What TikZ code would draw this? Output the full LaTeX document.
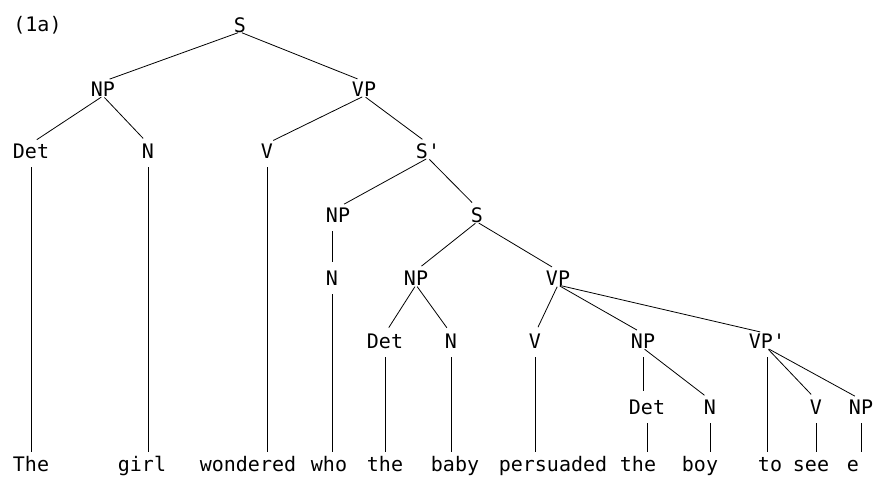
\documentclass[tikz,border=0pt]{standalone}
\usepackage{fontspec}
\newfontfamily\treefamily{DejaVu Sans Mono}
\newcommand\treefont{\treefamily\fontsize{20}{23}\selectfont}
\begin{document}
\begin{tikzpicture}[x=1pt,y=-1pt,
  lab/.style={font=\treefont, inner sep=0pt, outer sep=0pt, text height=14.5pt, text depth=0pt, anchor=base},
  wd/.style={font=\treefont, inner sep=0pt, outer sep=0pt, text height=10.5pt, text depth=4pt, anchor=base},
  br/.style={line width=0.8pt, black, shorten <=2pt, shorten >=7pt},
  vl/.style={line width=0.8pt, black, shorten <=9pt, shorten >=9pt}]
\useasboundingbox (0,0) rectangle (873,482);
\node[lab] (ex) at (37.5,31) {(1a)};
% tree labels
\node[lab] (s1) at (240,32) {S};
\node[lab] (np1) at (103,96) {NP};
\node[lab] (vp1) at (364,96) {VP};
\node[lab] (det1) at (31,158) {Det};
\node[lab] (n1) at (148,158) {N};
\node[lab] (v1) at (267,158) {V};
\node[lab] (sb) at (428,158) {S'};
\node[lab] (np2) at (338,222) {NP};
\node[lab] (s2) at (477,222) {S};
\node[lab] (n2) at (332,285) {N};
\node[lab] (np3) at (416,285) {NP};
\node[lab] (vp2) at (558,285) {VP};
\node[lab] (det3) at (385,348) {Det};
\node[lab] (n3) at (451,348) {N};
\node[lab] (v3) at (535,348) {V};
\node[lab] (np4) at (643,348) {NP};
\node[lab] (vpp) at (767,348) {VP'};
\node[lab] (det4) at (647,414) {Det};
\node[lab] (n4) at (710,414) {N};
\node[lab] (v5) at (816,414) {V};
\node[lab] (np5) at (861,414) {NP};
% words
\node[wd] (w1) at (31,471) {The};
\node[wd] (w2) at (142,471) {girl};
\node[wd] (w3) at (248,471) {wondered};
\node[wd] (w4) at (329,471) {who};
\node[wd] (w5) at (385,471) {the};
\node[wd] (w6) at (455,471) {baby};
\node[wd] (w7) at (553,471) {persuaded};
\node[wd] (w8) at (638,471) {the};
\node[wd] (w9) at (700,471) {boy};
\node[wd] (w10) at (770,471) {to};
\node[wd] (w11) at (811,471) {see};
\node[wd] (w12) at (853,471) {e};
% branches
\draw[br] (s1.south) -- (np1.north);
\draw[br] (s1.south) -- (vp1.north);
\draw[br] (np1.south) -- (det1.north);
\draw[br] (np1.south) -- (n1.north);
\draw[br] (vp1.south) -- (v1.north);
\draw[br] (vp1.south) -- (sb.north);
\draw[br] (sb.south) -- (np2.north);
\draw[br] (sb.south) -- (s2.north);
\draw[vl] (n2.north |- np2.south) -- (n2.north);
\draw[br] (s2.south) -- (np3.north);
\draw[br] (s2.south) -- (vp2.north);
\draw[br] (np3.south) -- (det3.north);
\draw[br] (np3.south) -- (n3.north);
\draw[br] (vp2.south) -- (v3.north);
\draw[br] (vp2.south) -- (np4.north);
\draw[br] (vp2.south) -- (vpp.north);
\draw[vl] (np4.south) -- (np4.south |- det4.north);
\draw[br] (np4.south) -- (n4.north);
\draw[br] (vpp.south) -- (v5.north);
\draw[br] (vpp.south) -- (np5.north);
% vertical lines to words
\draw[vl] (det1.south) -- (det1.south |- w1.north);
\draw[vl] (n1.south) -- (n1.south |- w2.north);
\draw[vl] (v1.south) -- (v1.south |- w3.north);
\draw[vl] (n2.south) -- (n2.south |- w4.north);
\draw[vl] (det3.south) -- (det3.south |- w5.north);
\draw[vl] (n3.south) -- (n3.south |- w6.north);
\draw[vl] (v3.south) -- (v3.south |- w7.north);
\draw[vl] (det4.south) -- (det4.south |- w8.north);
\draw[vl] (n4.south) -- (n4.south |- w9.north);
\draw[vl] (vpp.south) -- (vpp.south |- w10.north);
\draw[vl] (v5.south) -- (v5.south |- w11.north);
\draw[vl] (np5.south) -- (np5.south |- w12.north);
\end{tikzpicture}
\end{document}
